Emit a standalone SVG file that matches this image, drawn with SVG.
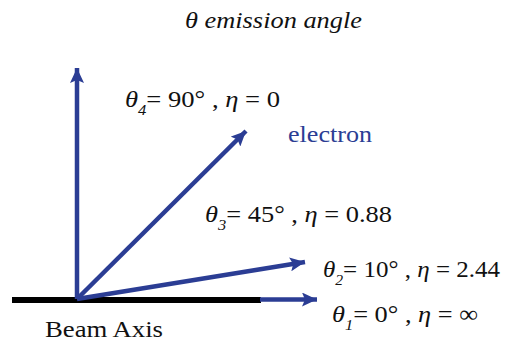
<svg xmlns="http://www.w3.org/2000/svg" width="511" height="345" viewBox="0 0 511 345">
<defs>
<marker id="ah" markerUnits="userSpaceOnUse" markerWidth="16" markerHeight="14" refX="15" refY="7" orient="auto">
<path d="M0,0 L15,7 L0,14 L3,7 Z" fill="#2b3d94"/>
</marker>
<style>
.arr{stroke:#2b3d94;stroke-width:4.5;fill:none;marker-end:url(#ah)}
.i{font-style:italic}
.sub{font-size:15px;font-style:italic}
</style>
</defs>
<rect width="511" height="345" fill="#fff"/>
<g id="beam-axis">
<rect x="12" y="297" width="249" height="6" fill="#000"/>
<text font-family="Liberation Serif, DejaVu Serif, serif" font-size="24" fill="#111" x="45" y="337" textLength="118" lengthAdjust="spacingAndGlyphs">Beam Axis</text>
</g>
<g id="connectors">
<line class="arr" x1="260" y1="299.5" x2="317" y2="299.5"/>
<line class="arr" x1="77" y1="299" x2="305" y2="262"/>
<line class="arr" x1="77" y1="299" x2="246" y2="131"/>
<line class="arr" x1="77" y1="299" x2="77" y2="68"/>
</g>
<g id="title">
<text font-family="Liberation Serif, DejaVu Serif, serif" font-size="24" fill="#111" font-style="italic" x="185" y="28" textLength="177" lengthAdjust="spacingAndGlyphs">θ emission angle</text>
</g>
<g id="electron">
<text font-family="Liberation Serif, DejaVu Serif, serif" font-size="24" fill="#2b3d94" x="288" y="142" textLength="84" lengthAdjust="spacingAndGlyphs">electron</text>
</g>
<g id="theta4">
<text font-family="Liberation Serif, DejaVu Serif, serif" font-size="24" fill="#111" x="125" y="107" textLength="155" lengthAdjust="spacingAndGlyphs"><tspan class="i">θ</tspan><tspan class="sub" dy="8">4</tspan><tspan dy="-8">= 90° , </tspan><tspan class="i">η</tspan> = 0</text>
</g>
<g id="theta3">
<text font-family="Liberation Serif, DejaVu Serif, serif" font-size="24" fill="#111" x="205" y="222" textLength="187" lengthAdjust="spacingAndGlyphs"><tspan class="i">θ</tspan><tspan class="sub" dy="8">3</tspan><tspan dy="-8">= 45° , </tspan><tspan class="i">η</tspan> = 0.88</text>
</g>
<g id="theta2">
<text font-family="Liberation Serif, DejaVu Serif, serif" font-size="24" fill="#111" x="323" y="277" textLength="177" lengthAdjust="spacingAndGlyphs"><tspan class="i">θ</tspan><tspan class="sub" dy="8">2</tspan><tspan dy="-8">= 10° , </tspan><tspan class="i">η</tspan> = 2.44</text>
</g>
<g id="theta1">
<text font-family="Liberation Serif, DejaVu Serif, serif" font-size="24" fill="#111" x="332" y="322" textLength="146" lengthAdjust="spacingAndGlyphs"><tspan class="i">θ</tspan><tspan class="sub" dy="8">1</tspan><tspan dy="-8">= 0° , </tspan><tspan class="i">η</tspan> = ∞</text>
</g>
</svg>
